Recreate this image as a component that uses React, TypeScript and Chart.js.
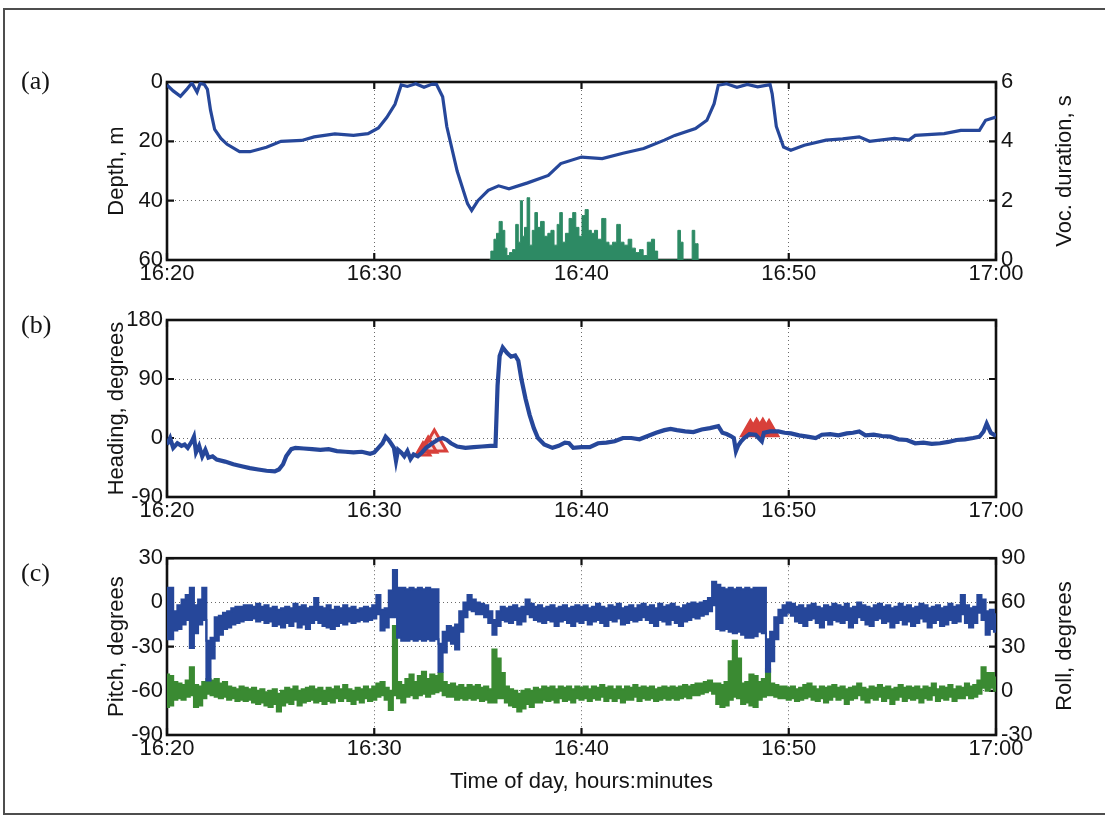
import React, { useEffect, useRef } from 'react';
import { Chart, registerables } from 'chart.js';

Chart.register(...registerables);

const SANS = "'Liberation Sans', Arial, Helvetica, sans-serif";
const SERIF = "'Liberation Serif', 'Times New Roman', serif";
const INK = '#141414';
const BLUE = '#26479a';
const GREEN = '#3a8a32';
const VOC_GREEN = '#2d8a64';
const RED = '#d8403a';

Chart.defaults.font.family = SANS;

// ---------- data (time in minutes after 16:20) ----------
const timeTickLabels = ['16:20', '16:30', '16:40', '16:50', '17:00'];

const depthT = [0, 0.3, 0.65, 0.95, 1.2, 1.45, 1.6, 1.8, 1.95, 2.1, 2.3, 2.6, 2.9, 3.5, 4.0, 4.8, 5.5, 6.5, 7.1, 8.1, 9.0, 9.7, 10.2, 10.6, 11.0, 11.3, 11.6, 12.0, 12.4, 12.8, 13.0, 13.3, 13.5, 14.0, 14.5, 14.7, 15.0, 15.5, 16.0, 16.5, 17.4, 18.4, 19.0, 20.0, 21.0, 22.0, 23.0, 24.0, 24.5, 25.5, 26.05, 26.4, 26.6, 27.0, 27.5, 28.0, 28.5, 29.1, 29.2, 29.4, 29.75, 30.1, 30.75, 31.8, 32.6, 33.4, 33.9, 35.1, 35.8, 36.1, 37.5, 38.3, 39.2, 39.5, 40];
const depthM = [1, 3, 4.8, 2.5, 0.3, 3.4, 0.5, 0.8, 2.5, 9.5, 16, 19, 21, 23.5, 23.5, 22, 20, 19.7, 18.5, 17.5, 18, 17.4, 15.5, 12, 7.5, 1, 1.5, 0.6, 1.8, 0.7, 0.8, 5, 15, 30, 41, 43.3, 40, 36.5, 35, 36, 34, 31.5, 27.5, 25.3, 25.8, 24, 22.4, 19.6, 18, 15.7, 12.9, 7.3, 1.1, 0.6, 1.8, 0.8, 1.6, 0.9, 4, 15, 21.9, 23, 21.3, 19.6, 19.2, 18.5, 20, 19, 19.6, 18, 17.4, 16.3, 16.3, 12.9, 11.8];

const vocT = [15.55, 15.7, 15.85, 15.95, 16.1, 16.25, 16.35, 16.45, 16.6, 16.75, 16.9, 17.0, 17.1, 17.2, 17.3, 17.45, 17.55, 17.7, 17.8, 17.95, 18.1, 18.3, 18.45, 18.6, 18.75, 18.9, 19.0, 19.15, 19.3, 19.5, 19.65, 19.8, 19.95, 20.1, 20.25, 20.4, 20.55, 20.7, 20.85, 21.1, 21.25, 21.4, 21.6, 21.8, 21.95, 22.15, 22.35, 22.5, 22.7, 22.9, 23.05, 23.3, 23.45, 23.6, 23.75, 24.6, 24.7, 24.85, 24.95, 25.3, 25.38, 25.55, 25.7];
const vocS = [0, 0.3, 0.7, 0.9, 1.3, 1.0, 0.4, 0.15, 0.25, 0.35, 1.2, 0.6, 2.0, 0.8, 1.1, 2.1, 0.5, 1.0, 1.6, 1.1, 1.3, 0.8, 0.9, 1.0, 0.5, 1.2, 1.6, 0.6, 0.9, 1.4, 1.6, 1.1, 0.8, 1.5, 1.7, 1.0, 0.9, 1.0, 0.7, 1.4, 0.6, 0.5, 0.6, 1.2, 0.6, 0.5, 0.7, 0.4, 0.25, 0.35, 0.15, 0.6, 0.7, 0.3, 0, 0, 1.0, 0.6, 0, 0, 1.0, 0.55, 0];

const headingT = [0, 0.15, 0.3, 0.5, 0.7, 0.85, 1.0, 1.2, 1.3, 1.4, 1.55, 1.7, 1.85, 2.0, 2.2, 2.4, 2.8, 3.2, 3.6, 4.0, 4.4, 4.8, 5.2, 5.4, 5.6, 5.75, 6.0, 6.2, 6.6, 7.0, 7.4, 7.8, 8.2, 8.6, 9.0, 9.4, 9.8, 10.0, 10.2, 10.4, 10.55, 10.7, 10.85, 10.95, 11.05, 11.15, 11.3, 11.45, 11.6, 11.75, 11.9, 12.1, 12.3, 12.5, 12.8, 13.1, 13.3, 13.5, 13.7, 14.0, 14.4, 14.8, 15.2, 15.6, 15.85, 15.95, 16.05, 16.2, 16.4, 16.6, 16.8, 16.95, 17.1, 17.3, 17.5, 17.7, 17.9, 18.2, 18.6, 18.9, 19.2, 19.4, 19.6, 20.0, 20.4, 20.8, 21.2, 21.6, 22.0, 22.4, 22.8, 23.2, 23.6, 24.0, 24.3, 24.6, 25.0, 25.4, 25.8, 26.2, 26.6, 26.8, 27.0, 27.2, 27.35, 27.45, 27.55, 27.7, 27.85, 28.1, 28.4, 28.7, 28.8, 29.1, 29.5, 29.8, 30.1, 30.5, 30.9, 31.3, 31.6, 32.0, 32.4, 32.8, 33.1, 33.4, 33.7, 34.1, 34.5, 34.9, 35.3, 35.7, 36.1, 36.5, 36.9, 37.3, 37.7, 38.1, 38.5, 38.9, 39.2, 39.4, 39.55, 39.75, 40];
const headingDeg = [-10, 0, -15, -8, -12, -10, -15, -5, 2, -22, -12, -28, -18, -30, -28, -33, -36, -40, -43, -46, -48, -50, -51, -48, -40, -28, -17, -15, -16, -17, -18, -17, -20, -21, -22, -21, -24, -22, -15, -8, 2, -3, -10, -15, -35, -18, -22, -28, -20, -32, -25, -28, -22, -15, -8, -2, 0, -3, -8, -13, -15, -14, -13, -12, -12, 80, 125, 138, 130, 124, 126, 118, 90, 60, 35, 15, 0, -10, -15, -12, -7, -8, -15, -14, -14, -8, -7, -5, 0, 0, -2, 3, 8, 12, 14, 12, 10, 9, 13, 15, 18, 8, 6, 3, 0, -20, -12, -5, 0, 6, 5, -5, 8, 10, 10, 8, 7, 4, 2, 0, 5, 6, 4, 7, 8, 10, 4, 5, 3, 2, -2, -3, -8, -7, -9, -8, -6, -3, -2, 0, 2, 10, 22, 8, 3];

// red triangle markers on the heading trace
const markOpenT = [12.35, 12.6, 12.9];
const markOpenDeg = [-20, -14, -9];
const markFillT = [28.15, 28.45, 28.75, 29.05];
const markFillDeg = [11, 13, 13, 11];

// pitch and roll: upper and lower edge of the trace, sampled every 0.2 min
const sampleStep = 0.2;
const pitchHi = [
  10, 10, -6, -2, 2, 5, 10, -2, 2, 10,
  -26, -24, -10, -9, -7, -6, -4, -3, -3, -2,
  -2, -3, -1, -3, -2, -4, -3, -5, -4, -3,
  -4, -1, -3, -2, -4, -3, 3, -3, -4, -2,
  -5, -3, -4, -2, -4, -3, -5, -4, -3, -4,
  -2, 5, -5, -4, 8, 22, 10, 10, 9, 10,
  9, 10, 9, 10, 9, 9, -28, -20, -16, -17,
  -15, -6, 0, 5, 2, 0, -1, -2, -6, -12,
  -6, -3, -4, -3, -2, -4, -3, 2, -1, -3,
  -2, -4, -3, -2, -4, -3, -2, -4, -3, -2,
  -3, -2, -4, -3, -1, -3, -4, -2, -3, -1,
  -4, -3, -2, -4, -2, -1, -3, -2, -4, -1,
  -3, -2, -1, -3, -4, -2, -1, 0, -1, 0,
  1, 3, 14, 12, 10, 9, 10, 9, 10, 9,
  10, 9, 10, 10, 10, -25, -20, -10, -5, -2,
  0, -1, -3, -2, -4, -2, -1, -3, -4, -2,
  -3, -1, -2, -3, -1, -4, -3, 0, -2, -3,
  -4, -2, -1, -3, -2, -4, -3, -1, -3, -2,
  -4, -3, -1, -2, -4, -3, -2, -4, -3, -1,
  -3, -2, 5, -2, -4, -3, 5, 2, -6, -5,
  -8,
];
const pitchLo = [
  -25, -25, -19, -18, -15, -12, -31, -21, -15, -12,
  -53, -38, -26, -22, -18, -17, -15, -14, -13, -12,
  -12, -11, -13, -12, -14, -13, -16, -15, -17, -14,
  -16, -13, -17, -15, -18, -14, -12, -14, -16, -17,
  -18, -16, -14, -15, -13, -14, -13, -12, -13, -12,
  -11, -8, -19, -17, -10, -10, -24, -26, -26, -25,
  -26, -25, -26, -25, -26, -25, -47, -34, -26, -28,
  -32, -20, -10, -5, -6, -8, -8, -10, -14, -22,
  -16, -12, -13, -14, -12, -15, -13, -8, -10, -12,
  -13, -14, -12, -13, -16, -13, -12, -14, -16, -13,
  -14, -12, -15, -13, -12, -14, -16, -12, -13, -11,
  -15, -14, -12, -13, -12, -10, -12, -14, -16, -12,
  -13, -15, -12, -14, -16, -13, -12, -10, -11, -9,
  -8, -6, -2, -18, -19, -18, -20, -21, -20, -22,
  -24, -24, -23, -20, -21, -47, -40, -25, -14, -9,
  -7, -9, -13, -14, -16, -12, -11, -14, -17, -12,
  -15, -12, -13, -14, -12, -17, -14, -10, -12, -15,
  -16, -12, -11, -14, -13, -17, -14, -12, -15, -13,
  -16, -14, -11, -13, -17, -14, -12, -16, -15, -12,
  -14, -13, -8, -14, -17, -14, -7, -12, -22, -18,
  -20,
];
const rollHi = [
  11, 10, 6, 5, 4, 7, 16, 4, 3, 6,
  8, 7, 8, 5, 6, 3, 2, 1, 3, 2,
  1, 2, 0, 1, -1, 0, 1, -2, 0, 2,
  1, 3, 0, 1, 2, 3, 1, 2, 0, 2,
  1, 3, 1, 4, 1, 0, 2, 1, 3, 1,
  3, 5, 6, 2, 0, 44, 6, 4, 8, 11,
  6, 10, 13, 8, 11, 10, 12, 6, 4, 5,
  3, 4, 2, 4, 3, 4, 2, 3, 1, 28,
  22, 12, 3, 1, 0, -2, 0, 1, 0, 2,
  1, 3, 2, 3, 1, 3, 2, 3, 1, 3,
  2, 3, 1, 3, 2, 4, 2, 3, 1, 3,
  1, 3, 2, 4, 2, 3, 2, 3, 1, 2,
  3, 2, 3, 2, 3, 4, 3, 4, 5, 5,
  6, 7, 5, 5, 4, 6, 20, 34, 22, 5,
  6, 11, 10, 6, 8, 15, 5, 4, 3, 3,
  2, 3, 1, 2, 4, 5, 3, 1, 3, 2,
  3, 4, 2, 3, 1, 2, 3, 5, 2, 1,
  3, 2, 4, 2, 3, 1, 2, 4, 2, 3,
  2, 3, 1, 3, 2, 5, 1, 3, 2, 4,
  1, 3, 2, 5, 3, 4, 7, 16, 12, 12,
  9,
];
const rollLo = [
  -11, -10, -6, -5, -6, -4, -3, -11, -10, -5,
  -2, -3, -4, -5, -4, -6, -5, -7, -6, -7,
  -6, -8, -9, -8, -10, -11, -9, -14, -10, -8,
  -9, -6, -10, -8, -7, -6, -8, -7, -9, -7,
  -8, -5, -7, -5, -7, -9, -6, -8, -5, -7,
  -6, -4, -3, -6, -13, -3, -5, -8, -4, -3,
  -5, -3, -2, -4, -2, -1, 0, -3, -4, -4,
  -6, -5, -6, -5, -6, -5, -7, -6, -8, -8,
  -5, -5, -8, -10, -11, -14, -12, -9, -11, -8,
  -8, -6, -7, -6, -8, -5, -7, -6, -8, -5,
  -6, -5, -7, -5, -6, -4, -7, -5, -7, -5,
  -8, -6, -6, -4, -7, -5, -6, -5, -7, -6,
  -5, -6, -5, -6, -5, -4, -5, -3, -3, -2,
  -1, 0, -2, -9, -11, -10, -6, -4, -5, -9,
  -8, -10, -11, -6, -4, -3, -3, -4, -5, -5,
  -6, -5, -7, -6, -5, -4, -6, -7, -5, -8,
  -6, -4, -6, -5, -9, -6, -5, -3, -6, -8,
  -5, -6, -4, -7, -5, -9, -6, -4, -7, -5,
  -6, -5, -8, -5, -6, -3, -7, -5, -6, -4,
  -7, -5, -5, -3, -5, -4, -2, 2, 0, 2,
  0,
];

// ---------- helpers ----------
const xy = (xs: number[], ys: number[]) => xs.map((x, i) => ({ x, y: ys[i] }));
const sampled = (ys: number[], step: number) => ys.map((y, i) => ({ x: Math.round(i * step * 100) / 100, y }));

const FONT = { family: SANS, size: 22 };

const frameTicks = {
  id: 'frameTicks',
  beforeDatasetsDraw(chart: any) {
    const { ctx, chartArea: a, scales } = chart;
    const L = 7;
    ctx.save();
    ctx.strokeStyle = '#111';
    ctx.lineWidth = 2.2;
    ctx.beginPath();
    scales.x.ticks.forEach((t: any) => {
      const px = scales.x.getPixelForValue(t.value);
      ctx.moveTo(px, a.bottom);
      ctx.lineTo(px, a.bottom - L);
      ctx.moveTo(px, a.top);
      ctx.lineTo(px, a.top + L);
    });
    scales.y.ticks.forEach((t: any) => {
      const py = scales.y.getPixelForValue(t.value);
      ctx.moveTo(a.left, py);
      ctx.lineTo(a.left + L, py);
      ctx.moveTo(a.right, py);
      ctx.lineTo(a.right - L, py);
    });
    ctx.stroke();
    ctx.lineWidth = 2.6;
    ctx.strokeRect(a.left, a.top, a.right - a.left, a.bottom - a.top);
    ctx.restore();
  },
};

function timeAxis(height: number, title?: string) {
  return {
    type: 'linear',
    min: 0,
    max: 40,
    afterFit: (s: any) => { s.height = height; },
    ticks: {
      stepSize: 10,
      autoSkip: false,
      maxRotation: 0,
      padding: 1,
      color: INK,
      font: FONT,
      callback: (v: number) => timeTickLabels[Math.round(v / 10)] ?? '',
    },
    grid: { drawTicks: false, color: '#6a6a6a', lineWidth: 1 },
    border: { display: false, dash: [1, 3] },
    title: title
      ? { display: true, text: title, color: INK, font: FONT, padding: { top: 4, bottom: 5 } }
      : { display: false },
  };
}

function valueAxis(opts: {
  position: 'left' | 'right';
  min: number;
  max: number;
  step: number;
  width: number;
  title?: string;
  grid?: boolean;
  reverse?: boolean;
}) {
  return {
    type: 'linear',
    position: opts.position,
    min: opts.min,
    max: opts.max,
    reverse: !!opts.reverse,
    afterFit: (s: any) => { s.width = opts.width; },
    ticks: { stepSize: opts.step, padding: opts.position === 'left' ? 4 : 5, color: INK, font: FONT },
    grid: { display: opts.grid !== false, drawTicks: false, color: '#6a6a6a', lineWidth: 1 },
    border: { display: false, dash: [1, 3] },
    title: opts.title
      ? { display: true, text: opts.title, color: INK, font: FONT, padding: { top: 4, bottom: 0 } }
      : { display: false },
  };
}

function baseOptions(padding: any, scales: any) {
  return {
    responsive: false,
    animation: false,
    devicePixelRatio: 1,
    events: [],
    layout: { padding },
    plugins: { legend: { display: false }, tooltip: { enabled: false } },
    elements: { point: { radius: 0 }, line: { tension: 0 } },
    scales,
  };
}

function bandPair(hi: number[], lo: number[], color: string, axis: string) {
  const common = { yAxisID: axis, borderColor: color, backgroundColor: color, borderWidth: 2, pointRadius: 0, stepped: 'middle' };
  return [
    { ...common, data: sampled(hi, sampleStep), fill: '+1' },
    { ...common, data: sampled(lo, sampleStep), fill: false },
  ];
}

function buildDepth() {
  return {
    type: 'line',
    data: {
      datasets: [
        { data: xy(depthT, depthM), yAxisID: 'y', borderColor: BLUE, borderWidth: 3.2, pointRadius: 0 },
        {
          data: xy(vocT, vocS), yAxisID: 'y2', stepped: 'middle', fill: 'origin',
          borderColor: VOC_GREEN, backgroundColor: VOC_GREEN, borderWidth: 1, pointRadius: 0,
        },
      ],
    },
    options: baseOptions({ left: 100, right: 40, top: 22, bottom: 10 }, {
      x: timeAxis(30),
      y: valueAxis({ position: 'left', min: 0, max: 60, step: 20, width: 67, title: 'Depth, m', reverse: true }),
      y2: valueAxis({ position: 'right', min: 0, max: 6, step: 2, width: 69, grid: false }),
    }),
    plugins: [frameTicks],
  };
}

function buildHeading() {
  return {
    type: 'line',
    data: {
      datasets: [
        { data: xy(headingT, headingDeg), borderColor: BLUE, borderWidth: 4.2, pointRadius: 0 },
        {
          data: xy(markOpenT, markOpenDeg), showLine: false, pointStyle: 'triangle', pointRadius: [8, 10, 14],
          pointBorderWidth: 3, pointBorderColor: RED, pointBackgroundColor: 'rgba(216,64,58,0.12)',
        },
        {
          data: xy(markFillT, markFillDeg), showLine: false, pointStyle: 'triangle', pointRadius: 11,
          pointBorderWidth: 2, pointBorderColor: RED, pointBackgroundColor: RED,
        },
      ],
    },
    options: baseOptions({ left: 100, right: 109, top: 20, bottom: 13 }, {
      x: timeAxis(30),
      y: valueAxis({ position: 'left', min: -90, max: 180, step: 90, width: 67, title: 'Heading, degrees' }),
    }),
    plugins: [frameTicks],
  };
}

function buildPitchRoll() {
  return {
    type: 'line',
    data: {
      datasets: [
        ...bandPair(pitchHi, pitchLo, BLUE, 'y'),
        ...bandPair(rollHi, rollLo, GREEN, 'y2'),
      ],
    },
    options: baseOptions({ left: 100, right: 40, top: 17, bottom: 10 }, {
      x: timeAxis(65, 'Time of day, hours:minutes'),
      y: valueAxis({ position: 'left', min: -90, max: 30, step: 30, width: 67, title: 'Pitch, degrees' }),
      y2: valueAxis({ position: 'right', min: -30, max: 90, step: 30, width: 69, grid: false }),
    }),
    plugins: [frameTicks],
  };
}

function ChartCanvas({ top, height, build }: { top: number; height: number; build: () => any }) {
  const ref = useRef<HTMLCanvasElement>(null);
  useEffect(() => {
    const chart = new Chart(ref.current as HTMLCanvasElement, build());
    return () => chart.destroy();
  }, []);
  return (
    <canvas
      ref={ref}
      width={1105}
      height={height}
      style={{ position: 'absolute', left: 0, top, width: 1105, height, display: 'block' }}
    />
  );
}

function PanelLabel({ text, top }: { text: string; top: number }) {
  return (
    <div style={{ position: 'absolute', left: 21, top, fontFamily: SERIF, fontSize: 26, lineHeight: '26px', color: INK }}>
      {text}
    </div>
  );
}

function RightTitle({ text, cx, cy }: { text: string; cx: number; cy: number }) {
  return (
    <div
      style={{
        position: 'absolute', left: cx, top: cy, transform: 'translate(-50%, -50%) rotate(-90deg)',
        whiteSpace: 'nowrap', fontFamily: SANS, fontSize: 22, lineHeight: '26px', color: INK,
      }}
    >
      {text}
    </div>
  );
}

export default function App() {
  return (
    <div style={{ position: 'absolute', left: 0, top: 0, width: 1105, height: 821, background: '#fff', overflow: 'hidden' }}>
      <div style={{ position: 'absolute', left: 3, top: 8, width: 1130, height: 807, border: '2px solid #4d4d4d', boxSizing: 'border-box' }} />
      <ChartCanvas top={60} height={240} build={buildDepth} />
      <ChartCanvas top={300} height={240} build={buildHeading} />
      <ChartCanvas top={540} height={270} build={buildPitchRoll} />
      <PanelLabel text="(a)" top={68} />
      <PanelLabel text="(b)" top={312} />
      <PanelLabel text="(c)" top={560} />
      <RightTitle text="Voc. duration, s" cx={1064} cy={171} />
      <RightTitle text="Roll, degrees" cx={1064} cy={646} />
    </div>
  );
}
